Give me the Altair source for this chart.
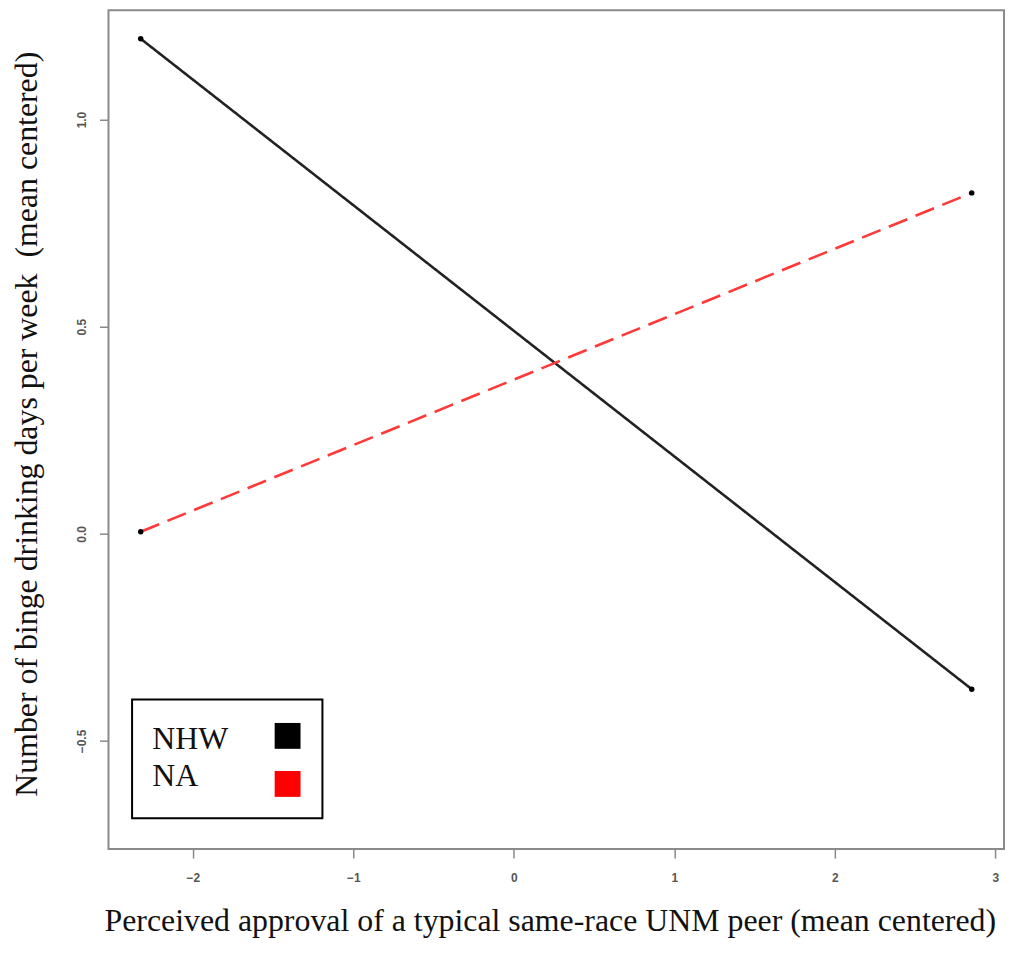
import altair as alt
import pandas as pd

# ---- data ----
groups = ["NHW", "NA"]
x_vals = [-2.325, 2.853]
nhw_vals = [1.195, -0.375]
na_vals = [0.005, 0.823]
group_colors = ["#222222", "#ff3838"]
legend_colors = ["#000000", "#ff0000"]
x_ticks = [-2, -1, 0, 1, 2, 3]
y_ticks = [-0.5, 0.0, 0.5, 1.0]
x_title = "Perceived approval of a typical same-race UNM peer (mean centered)"
y_title = "Number of binge drinking days per week\u00a0 (mean centered)"

df = pd.DataFrame({
    "x": x_vals + x_vals,
    "y": nhw_vals + na_vals,
    "group": [groups[0]] * 2 + [groups[1]] * 2,
})

W, H = 900, 843
x_dom = [-2.5257, 3.054]
y_dom = [-0.761, 1.2637]

xs = alt.Scale(domain=x_dom, nice=False, zero=False)
ys = alt.Scale(domain=y_dom, nice=False, zero=False)

x_axis = alt.Axis(values=x_ticks, format="d", title=x_title, grid=False,
                  titleX=443.5, titleY=82, titleBaseline="alphabetic",
                  titleAlign="center", labelPadding=15)
y_axis = alt.Axis(values=y_ticks, format=".1f", title=y_title, grid=False,
                  labelAngle=270, labelAlign="center", labelBaseline="bottom",
                  labelPadding=11, titleX=-72, titleY=415.5, titleAngle=270,
                  titleBaseline="alphabetic", titleAlign="center")

base = alt.Chart(df)

lines = base.mark_line(strokeWidth=2.6, clip=True).encode(
    x=alt.X("x:Q", scale=xs, axis=x_axis),
    y=alt.Y("y:Q", scale=ys, axis=y_axis),
    color=alt.Color("group:N", scale=alt.Scale(domain=groups, range=group_colors), legend=None),
    strokeDash=alt.StrokeDash("group:N", scale=alt.Scale(domain=groups, range=[[1, 0], [20, 9]]), legend=None),
    order=alt.Order("x:Q"),
)

points = base.mark_circle(size=30, color="black", opacity=1).encode(
    x=alt.X("x:Q", scale=xs),
    y=alt.Y("y:Q", scale=ys),
)

# ---- manual legend (box with labels on the left, squares on the right) ----
leg_box = alt.Chart(pd.DataFrame({"k": [0]})).mark_rect(
    fill="white", stroke="black", strokeWidth=2
).encode(x=alt.value(23.7), x2=alt.value(215), y=alt.value(692.7), y2=alt.value(812))

leg_layers = [leg_box]
for i, (g, c) in enumerate(zip(groups, legend_colors)):
    row = pd.DataFrame({"label": [g]})
    leg_layers.append(
        alt.Chart(row).mark_text(
            font="Liberation Serif", fontSize=32, align="left", baseline="alphabetic", color="#111"
        ).encode(text="label:N", x=alt.value(44), y=alt.value(742.7 + i * 37.3))
    )
    leg_layers.append(
        alt.Chart(row).mark_square(size=676, color=c, opacity=1).encode(
            x=alt.value(180), y=alt.value(729.2 + i * 48.3)
        )
    )

chart = alt.layer(lines, points, *leg_layers).properties(
    width=W, height=H,
    autosize=alt.AutoSizeParams(type="none"),
    padding={"left": 101, "top": 0, "right": 1, "bottom": 89},
).configure_view(
    stroke="#8a8a8a", strokeWidth=2
).configure_axis(
    domain=False, ticks=True, tickColor="#888888", tickWidth=1.5, tickSize=9,
    labelFont="Liberation Sans", labelFontSize=12, labelFontWeight="bold", labelColor="#555555",
    titleFont="Liberation Serif", titleFontSize=32, titleFontWeight="normal", titleColor="#111111",
)

chart.save("out.html", embed_options={"renderer": "svg", "actions": False})
